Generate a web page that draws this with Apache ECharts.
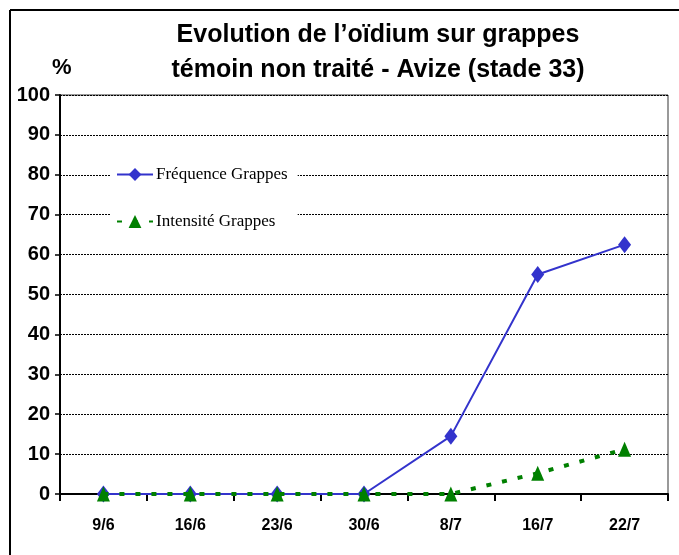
<!DOCTYPE html>
<html>
<head>
<meta charset="utf-8">
<script src="https://cdn.jsdelivr.net/npm/echarts@6/dist/echarts.min.js"></script>
<style>
  html, body { margin: 0; padding: 0; background: #fff; }
  #chart { width: 679px; height: 555px; }
</style>
</head>
<body>
<div id="chart"></div>
<script>
// data
var dates = ['9/6', '16/6', '23/6', '30/6', '8/7', '16/7', '22/7'];
var frequence = [0, 0, 0, 0, 14.5, 55, 62.5];
var intensite = [0, 0, 0, 0, 0, 5.2, 11.2];
var yTicks = [0, 100, 10]; // min, max, step

var chart = echarts.init(document.getElementById('chart'));
var sans = '"Liberation Sans", Arial, sans-serif';

chart.setOption({
    backgroundColor: '#fff',
    animation: false,
    title: {
        text: 'Evolution de l\u2019oïdium sur grappes\ntémoin non traité - Avize (stade 33)',
        left: 373,
        textAlign: 'center',
        top: 13,
        textStyle: {
            fontFamily: sans,
            fontWeight: 'bold',
            fontSize: 25,
            lineHeight: 35,
            color: '#000'
        }
    },
    graphic: [
        // outer frame (only top and left edges are visible)
        { type: 'line', shape: { x1: 10, y1: 10, x2: 679, y2: 10 }, style: { stroke: '#000', lineWidth: 2 } },
        { type: 'line', shape: { x1: 10, y1: 10, x2: 10, y2: 555 }, style: { stroke: '#000', lineWidth: 2 } },
        // plot border top / right
        { type: 'line', shape: { x1: 60, y1: 95, x2: 668, y2: 95 }, style: { stroke: '#999', lineWidth: 2 } },
        { type: 'line', shape: { x1: 668, y1: 95, x2: 668, y2: 494 }, style: { stroke: '#999', lineWidth: 2 } },
        {
            type: 'text', left: 52, top: 57,
            style: { text: '%', font: 'bold 22px ' + sans, fill: '#000' }
        }
    ],
    legend: {
        orient: 'vertical',
        left: 110,
        top: 160,
        itemGap: 30,
        itemWidth: 36,
        itemHeight: 16,
        backgroundColor: '#fff',
        padding: [6, 10, 8, 6],
        textStyle: {
            fontFamily: '"Liberation Serif", "Times New Roman", serif',
            fontSize: 17,
            color: '#000',
            padding: [4, 0, 0, -2]
        },
        data: ['Fréquence Grappes', 'Intensité Grappes']
    },
    grid: { left: 60, right: 11, top: 95, bottom: 61 },
    xAxis: {
        type: 'category',
        data: dates,
        boundaryGap: true,
        axisLine: { lineStyle: { color: '#000', width: 2 } },
        axisTick: { show: true, length: 7, lineStyle: { color: '#000', width: 2 } },
        axisLabel: {
            margin: 24,
            fontFamily: sans,
            fontWeight: 'bold',
            fontSize: 16,
            color: '#000'
        },
        splitLine: { show: false }
    },
    yAxis: {
        type: 'value',
        min: yTicks[0],
        max: yTicks[1],
        interval: yTicks[2],
        axisLine: { show: true, lineStyle: { color: '#000', width: 2 } },
        axisTick: { show: true, length: 5, lineStyle: { color: '#000', width: 1.5 } },
        axisLabel: {
            margin: 10,
            fontFamily: sans,
            fontWeight: 'bold',
            fontSize: 20,
            color: '#000'
        },
        splitLine: { lineStyle: { color: '#000', type: [2, 1], width: 1 } }
    },
    series: [
        {
            name: 'Fréquence Grappes',
            type: 'line',
            data: frequence,
            symbol: 'diamond',
            symbolSize: [13, 17],
            itemStyle: { color: '#3333cc' },
            lineStyle: { color: '#3333cc', width: 2 },
            z: 3
        },
        {
            name: 'Intensité Grappes',
            type: 'line',
            data: intensite,
            symbol: 'triangle',
            symbolSize: [13, 15],
            itemStyle: { color: '#008000' },
            lineStyle: { color: '#008000', width: 4, type: [5, 11] },
            z: 4
        }
    ]
});
</script>
</body>
</html>
